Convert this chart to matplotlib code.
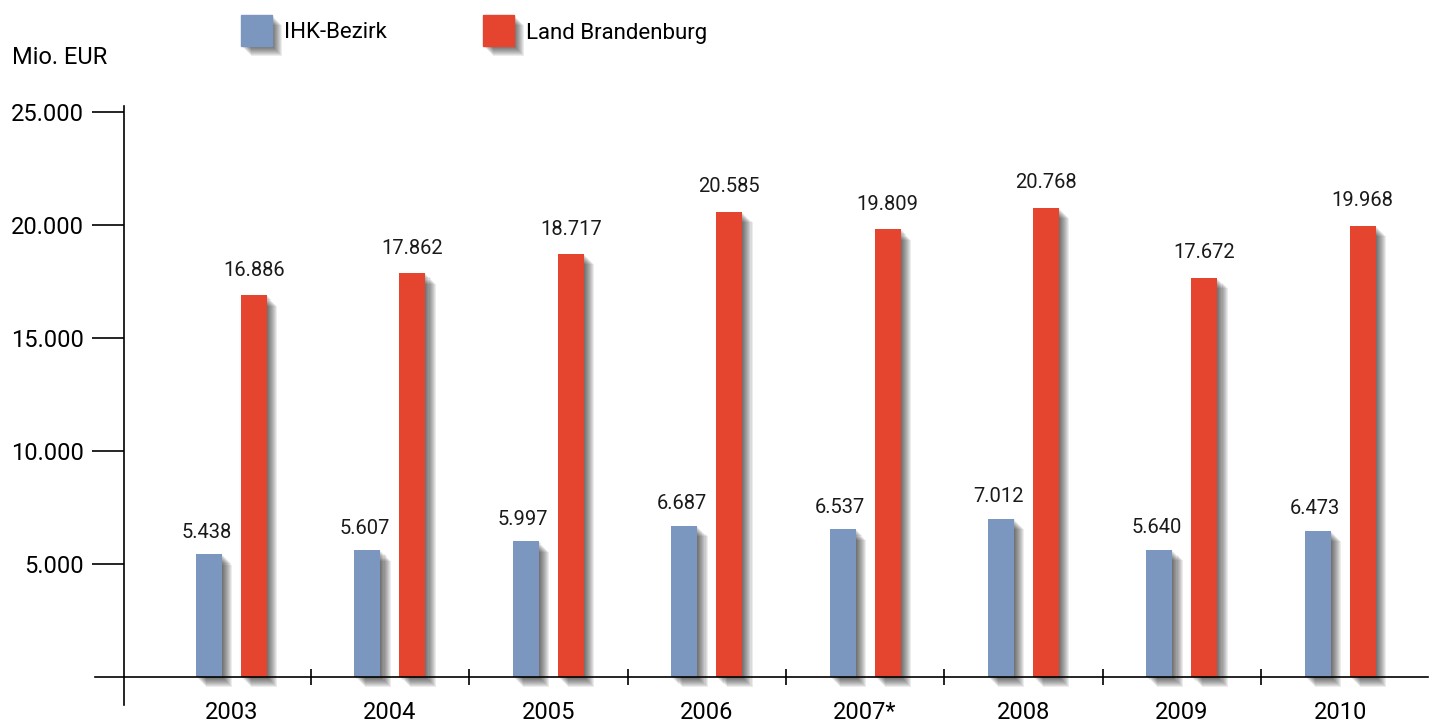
import matplotlib
matplotlib.use("Agg")
import matplotlib.pyplot as plt
import matplotlib.patheffects as pe
from matplotlib.patches import Rectangle
import numpy as np

plt.rcParams["font.family"] = ["Roboto", "DejaVu Sans"]

years = ["2003", "2004", "2005", "2006", "2007*", "2008", "2009", "2010"]
ihk = [5438, 5607, 5997, 6687, 6537, 7012, 5640, 6473]
land = [16886, 17862, 18717, 20585, 19809, 20768, 17672, 19968]
yticks = [5000, 10000, 15000, 20000, 25000]

blue = "#7C97BF"
red = "#E5452F"


def fmt(v):
    return f"{v:,}".replace(",", ".")


def shadow():
    # stacked soft shadow to imitate the blurred drop shadow
    fx = [pe.SimplePatchShadow(offset=(o, -o), shadow_rgbFace="black", alpha=0.075)
          for o in np.linspace(0.7, 7.5, 10)]
    return fx + [pe.Normal()]


fig = plt.figure(figsize=(14.37, 7.22), dpi=100)
ax = fig.add_axes([95 / 1437, 45 / 722, 1333 / 1437, 571 / 722])

x = np.arange(len(years))
w = 0.164
off = 0.142
b1 = ax.bar(x - off, ihk, w, color=blue, zorder=3, clip_on=False)
b2 = ax.bar(x + off, land, w, color=red, zorder=3, clip_on=False)
for b in list(b1) + list(b2):
    b.set_path_effects(shadow())

for xi, v in zip(x - off, ihk):
    ax.annotate(fmt(v), (xi, v), xytext=(-2, 9), textcoords="offset points",
                ha="center", va="bottom", fontsize=14.5, color="#1a1a1a")
for xi, v in zip(x + off, land):
    ax.annotate(fmt(v), (xi, v), xytext=(0, 11), textcoords="offset points",
                ha="center", va="bottom", fontsize=14.5, color="#1a1a1a")

ax.set_xlim(-0.862, 7.554)
ax.set_ylim(0, 25265)

# axes styling
for s in ["top", "right"]:
    ax.spines[s].set_visible(False)
ax.spines["left"].set_position(("data", -0.679))
ax.spines["left"].set_linewidth(1.2)
ax.spines["bottom"].set_linewidth(1.2)
ax.spines["bottom"].set_zorder(4)
ax.plot([-0.679, -0.679], [-1240, 0], color="black", lw=1.2, clip_on=False)

ax.set_yticks(yticks)
ax.set_yticklabels([fmt(v) for v in yticks])
ax.tick_params(axis="y", direction="out", length=23, width=1.2, pad=6,
               labelsize=17, colors="black")

ax.set_xticks(x)
ax.set_xticklabels(years)
ax.tick_params(axis="x", which="major", length=0, pad=17, labelsize=17)
ax.set_xticks(x[:-1] + 0.5, minor=True)
ax.tick_params(axis="x", which="minor", direction="inout", length=11, width=1.2)

fig.text(12 / 1437, 1 - 58 / 722, "Mio. EUR", fontsize=17, va="center", ha="left")

# legend
for sx, col, lab in [(241, blue, "IHK-Bezirk"), (483, red, "Land Brandenburg")]:
    r = Rectangle((sx / 1437, 1 - 46 / 722), 31 / 1437, 31 / 722,
                  transform=fig.transFigure, color=col, zorder=3)
    r.set_path_effects(shadow())
    fig.patches.append(r)
    fig.text((sx + 43) / 1437, 1 - 33 / 722, lab, fontsize=16, va="center", ha="left")

fig.savefig("out.png", dpi=100)
